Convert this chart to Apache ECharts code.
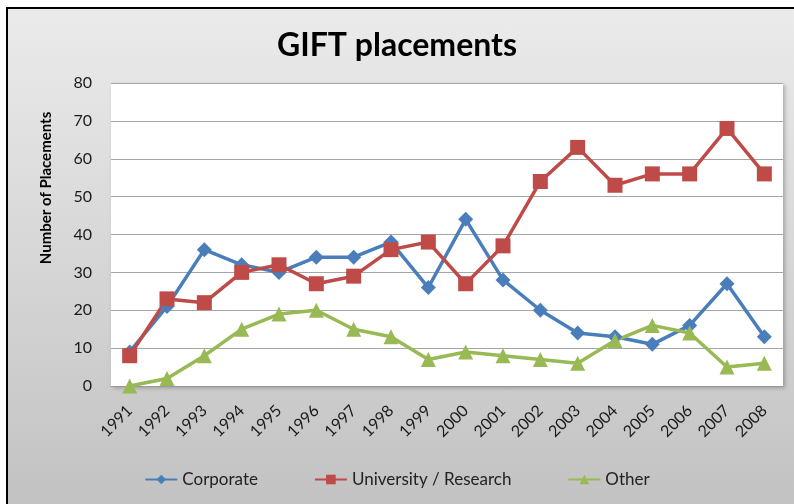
<!DOCTYPE html>
<html>
<head>
<meta charset="utf-8">
<script src="https://cdn.jsdelivr.net/npm/echarts@6/dist/echarts.min.js"></script>
<style>
  html, body { margin: 0; padding: 0; background: #fff; }
  #frame {
    position: absolute; left: 6px; top: 7px; width: 788px; height: 497px;
    border-left: 2px solid #000; border-top: 2px solid #000;
    background: linear-gradient(#ebebeb, #c2c2c2);
  }
  #main { position: absolute; left: 0; top: 0; width: 794px; height: 504px; }
</style>
</head>
<body>
<div id="frame"></div>
<div id="main"></div>
<script>
var years = ['1991','1992','1993','1994','1995','1996','1997','1998','1999','2000',
             '2001','2002','2003','2004','2005','2006','2007','2008'];
var corporate  = [9, 21, 36, 32, 30, 34, 34, 38, 26, 44, 28, 20, 14, 13, 11, 16, 27, 13];
var university = [8, 23, 22, 30, 32, 27, 29, 36, 38, 27, 37, 54, 63, 53, 56, 56, 68, 56];
var other      = [0, 2, 8, 15, 19, 20, 15, 13, 7, 9, 8, 7, 6, 12, 16, 14, 5, 6];

var font = 'Lato, "Open Sans", sans-serif';

function lineSeries(name, data, color, symbol, size) {
    return {
        name: name,
        type: 'line',
        data: data,
        symbol: symbol,
        symbolSize: size,
        lineStyle: { color: color, width: 3.5 },
        itemStyle: { color: color },
        emphasis: { disabled: true },
        animation: false
    };
}

var myChart = echarts.init(document.getElementById('main'));
var option = {
    backgroundColor: 'transparent',
    title: {
        text: 'GIFT placements',
        left: 'center',
        top: 25,
        textStyle: { fontFamily: font, fontSize: 32, fontWeight: 'bold', color: '#000' }
    },
    // axis title sits above the axis middle in the original, so place it by hand
    graphic: [{
        type: 'text',
        x: 46, y: 188,
        rotation: Math.PI / 2,
        style: {
            text: 'Number of Placements',
            font: 'bold 15px ' + font,
            fill: '#000',
            align: 'center',
            verticalAlign: 'middle'
        }
    }],
    grid: {
        left: 111, right: 11, top: 83, bottom: 118,
        show: true, backgroundColor: '#fff', borderWidth: 0,
        shadowColor: 'rgba(0,0,0,0.25)', shadowBlur: 4, shadowOffsetX: 2, shadowOffsetY: 2
    },
    legend: {
        bottom: 11,
        left: 'center',
        itemWidth: 32,
        itemHeight: 12,
        itemGap: 56,
        textStyle: { fontFamily: font, fontSize: 17, color: '#222' },
        data: ['Corporate', 'University / Research', 'Other']
    },
    xAxis: {
        type: 'category',
        data: years,
        boundaryGap: true,
        axisLine: { lineStyle: { color: '#999', width: 1 } },
        axisTick: { show: false },
        axisLabel: { rotate: 45, fontFamily: font, fontSize: 16, color: '#1a1a1a', margin: 22 }
    },
    yAxis: {
        type: 'value',
        min: 0, max: 80, interval: 10,
        axisLine: { show: false },
        axisTick: { show: false },
        axisLabel: { fontFamily: font, fontSize: 16, color: '#1a1a1a', margin: 19 },
        splitLine: { lineStyle: { color: '#a6a6a6', width: 1 } }
    },
    series: [
        lineSeries('Corporate', corporate, '#4a7ebb', 'diamond', 15),
        lineSeries('University / Research', university, '#be4b48', 'rect', 15),
        lineSeries('Other', other, '#98b954', 'triangle', 15)
    ]
};
myChart.setOption(option);
</script>
</body>
</html>
